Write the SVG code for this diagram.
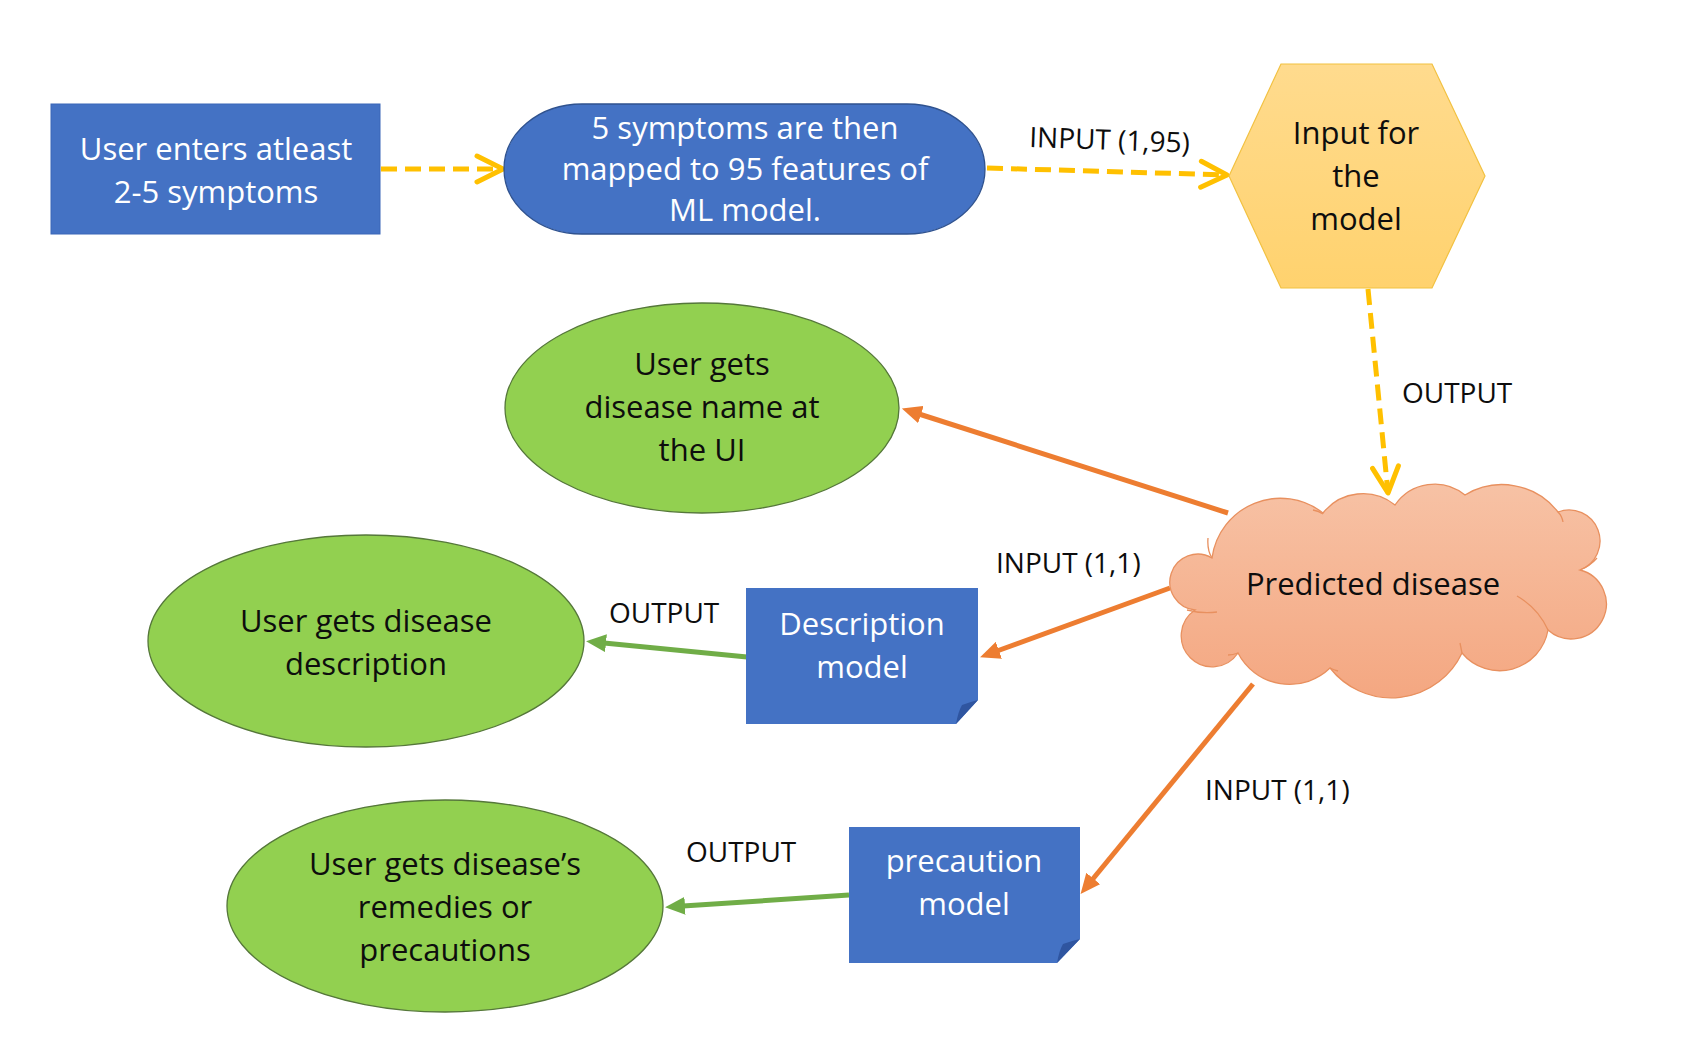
<svg xmlns="http://www.w3.org/2000/svg" width="1683" height="1039" viewBox="0 0 1683 1039">
<style>
.nt{font-family:"Open Sans","Liberation Sans",sans-serif;font-size:31px;text-anchor:middle}
.w{fill:#ffffff}
.k{fill:#0d0d0d}
.lbl{font-family:"Open Sans","Liberation Sans",sans-serif;font-size:28px;fill:#0d0d0d}
.blue{fill:#4472C4}
.green{fill:#92D050;stroke:#55773A;stroke-width:1.3}
.fold{fill:#2F55A0}
.dash{fill:none;stroke:#FFC000;stroke-width:5;stroke-dasharray:16 8}
.org{fill:none;stroke:#ED7D31;stroke-width:5}
.grn{fill:none;stroke:#70AD47;stroke-width:5}
</style>
<defs>
<marker id="chev" markerUnits="userSpaceOnUse" viewBox="0 0 32 32" markerWidth="32" markerHeight="32" refX="29" refY="16" orient="auto">
<path d="M3,3 L29,16 L3,29" fill="none" stroke="#FFC000" stroke-width="5" stroke-linecap="round" stroke-linejoin="round"/>
</marker>
<marker id="ao" markerUnits="userSpaceOnUse" viewBox="0 0 20 18" markerWidth="20" markerHeight="18" refX="2" refY="9" orient="auto">
<path d="M0,0 L20,9 L0,18 Z" fill="#ED7D31"/>
</marker>
<marker id="ag" markerUnits="userSpaceOnUse" viewBox="0 0 20 18" markerWidth="20" markerHeight="18" refX="2" refY="9" orient="auto">
<path d="M0,0 L20,9 L0,18 Z" fill="#70AD47"/>
</marker>
<linearGradient id="hexg" x1="0" y1="0" x2="0" y2="1">
<stop offset="0" stop-color="#FFDB8E"/>
<stop offset="1" stop-color="#FFD26E"/>
</linearGradient>
<linearGradient id="cloudg" x1="0" y1="0" x2="0" y2="1">
<stop offset="0" stop-color="#F7C2A5"/>
<stop offset="1" stop-color="#F4A781"/>
</linearGradient>
</defs>
<rect width="1683" height="1039" fill="#ffffff"/>

<g id="connectors">
<path class="dash" d="M381,169 L503,169" marker-end="url(#chev)"/>
<path class="dash" d="M987,168 L1227,175" marker-end="url(#chev)"/>
<path class="dash" d="M1368,289 L1388,493" marker-end="url(#chev)"/>
<path class="org" d="M1228,513 L919,414" marker-end="url(#ao)"/>
<path class="org" d="M1170,588 L997,651" marker-end="url(#ao)"/>
<path class="org" d="M1253,684 L1092,880" marker-end="url(#ao)"/>
<path class="grn" d="M747,657 L604,643" marker-end="url(#ag)"/>
<path class="grn" d="M849,895 L683,906" marker-end="url(#ag)"/>
<text class="lbl" x="1029" y="147" transform="rotate(2 1029 147)">INPUT (1,95)</text>
<text class="lbl" x="1402" y="403">OUTPUT</text>
<text class="lbl" x="996" y="573">INPUT (1,1)</text>
<text class="lbl" x="1205" y="800">INPUT (1,1)</text>
<text class="lbl" x="609" y="623">OUTPUT</text>
<text class="lbl" x="686" y="862">OUTPUT</text>
</g>

<g id="n-user-enters">
<rect class="blue" x="51" y="104" width="329" height="130" stroke="#3B67B8" stroke-width="1"/>
<text class="nt w" x="216" y="160">User enters atleast</text>
<text class="nt w" x="216" y="203">2-5 symptoms</text>
</g>

<g id="n-mapped">
<rect class="blue" x="504" y="104" width="481" height="130" rx="78" ry="65" stroke="#2F528F" stroke-width="1.3"/>
<text class="nt w" x="745" y="139">5 symptoms are then</text>
<text class="nt w" x="745" y="180">mapped to 95 features of</text>
<text class="nt w" x="745" y="221">ML model.</text>
</g>

<g id="n-input">
<polygon points="1229,176 1281,64 1432,64 1485,176 1432,288 1281,288" fill="url(#hexg)" stroke="#F2C141" stroke-width="1.2"/>
<text class="nt k" x="1356" y="144">Input for</text>
<text class="nt k" x="1356" y="187">the</text>
<text class="nt k" x="1356" y="230">model</text>
</g>

<g id="n-predicted">
<path d="M1212,558 A69,69 0 0 1 1323,513 A51,51 0 0 1 1395,505 A48,48 0 0 1 1465,495 A71,71 0 0 1 1558,512 A31,31 0 0 1 1580,570 A35,35 0 1 1 1548,630 A49,49 0 0 1 1462,653 A78,78 0 0 1 1330,668 A58,58 0 0 1 1238,653 A31,31 0 1 1 1195,610 A28,28 0 1 1 1212,558 Z" fill="url(#cloudg)" stroke="#E8905F" stroke-width="1.3"/>
<path d="M1208,538 Q1207,550 1212,558 M1313,510 Q1319,511 1323,514 M1558,512 Q1562,516 1563,522 M1580,570 Q1590,566 1597,558 M1517,596 Q1538,608 1548,630 M1462,653 Q1461,648 1460,643 M1330,668 Q1334,670 1338,671 M1238,653 Q1233,655 1228,655 M1187,610 Q1202,614 1217,612" fill="none" stroke="#E8905F" stroke-width="1.3"/>
<text class="nt k" x="1373" y="595">Predicted disease</text>
</g>

<g id="n-disease-name">
<ellipse class="green" cx="702" cy="408" rx="197" ry="105"/>
<text class="nt k" x="702" y="375">User gets</text>
<text class="nt k" x="702" y="418">disease name at</text>
<text class="nt k" x="702" y="461">the UI</text>
</g>

<g id="n-description-model">
<path class="blue" d="M746,588 L978,588 L978,700 L956,724 L746,724 Z"/>
<path class="fold" d="M978,700 L956,724 Q958,712 962,705 Q970,702 978,700 Z"/>
<text class="nt w" x="862" y="635">Description</text>
<text class="nt w" x="862" y="678">model</text>
</g>

<g id="n-disease-description">
<ellipse class="green" cx="366" cy="641" rx="218" ry="106"/>
<text class="nt k" x="366" y="632">User gets disease</text>
<text class="nt k" x="366" y="675">description</text>
</g>

<g id="n-precaution-model">
<path class="blue" d="M849,827 L1080,827 L1080,939 L1057,963 L849,963 Z"/>
<path class="fold" d="M1080,939 L1057,963 Q1059,951 1063,944 Q1071,941 1080,939 Z"/>
<text class="nt w" x="964" y="872">precaution</text>
<text class="nt w" x="964" y="915">model</text>
</g>

<g id="n-remedies">
<ellipse class="green" cx="445" cy="906" rx="218" ry="106"/>
<text class="nt k" x="445" y="875">User gets disease’s</text>
<text class="nt k" x="445" y="918">remedies or</text>
<text class="nt k" x="445" y="961">precautions</text>
</g>
</svg>
